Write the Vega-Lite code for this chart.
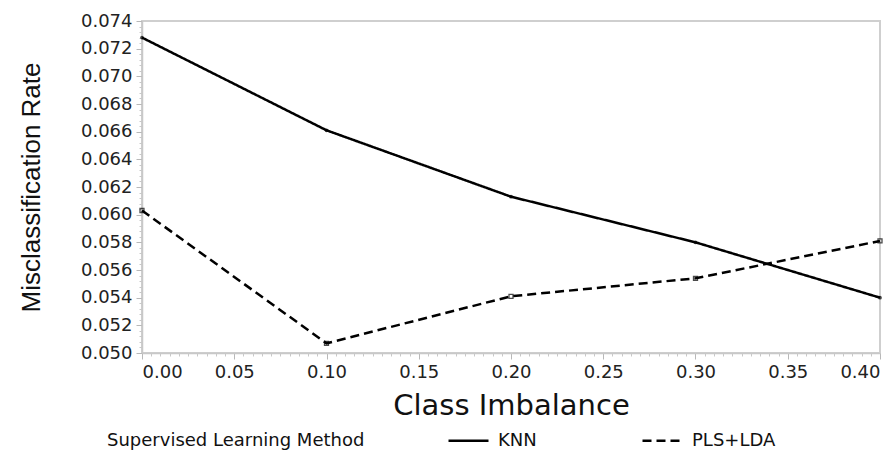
{
  "$schema": "https://vega.github.io/schema/vega-lite/v6.json",
  "width": 738,
  "height": 332,
  "autosize": {"type": "none"},
  "padding": {"left": 142, "top": 21, "right": 15, "bottom": 98},
  "background": "white",
  "config": {
    "view": {"stroke": "#cfcfcf", "strokeWidth": 2},
    "font": "DejaVu Sans"
  },
  "data": {
    "values": [
      {"imb": 0.0, "rate": 0.0728, "Method": "KNN"},
      {"imb": 0.1, "rate": 0.0661, "Method": "KNN"},
      {"imb": 0.2, "rate": 0.0613, "Method": "KNN"},
      {"imb": 0.3, "rate": 0.0580, "Method": "KNN"},
      {"imb": 0.4, "rate": 0.0540, "Method": "KNN"},
      {"imb": 0.0, "rate": 0.0603, "Method": "PLS+LDA"},
      {"imb": 0.1, "rate": 0.0507, "Method": "PLS+LDA"},
      {"imb": 0.2, "rate": 0.0541, "Method": "PLS+LDA"},
      {"imb": 0.3, "rate": 0.0554, "Method": "PLS+LDA"},
      {"imb": 0.4, "rate": 0.0581, "Method": "PLS+LDA"}
    ]
  },
  "resolve": {"axis": {"x": "independent", "y": "independent"}},
  "layer": [
    {
      "mark": {"type": "line", "color": "black", "strokeWidth": 2.5},
      "encoding": {
        "x": {
          "field": "imb", "type": "quantitative",
          "scale": {"domain": [0, 0.4], "nice": false, "zero": false},
          "axis": {
            "orient": "bottom",
            "title": "Class Imbalance",
            "values": [0, 0.05, 0.1, 0.15, 0.2, 0.25, 0.3, 0.35, 0.4],
            "format": ".2f",
            "grid": false,
            "domainColor": "#c8c8c8", "domainWidth": 1.5,
            "tickColor": "#b8b8b8", "tickSize": 6,
            "labelFont": "DejaVu Sans", "labelFontSize": 18, "labelColor": "#222",
            "labelPadding": 4,
            "titleFont": "DejaVu Sans", "titleFontSize": 29, "titleFontWeight": "normal",
            "titleColor": "#111", "titlePadding": 10
          }
        },
        "y": {
          "field": "rate", "type": "quantitative",
          "scale": {"domain": [0.05, 0.074], "nice": false, "zero": false},
          "axis": {
            "orient": "left",
            "title": "Misclassification Rate",
            "values": [0.05, 0.052, 0.054, 0.056, 0.058, 0.06, 0.062, 0.064, 0.066, 0.068, 0.07, 0.072, 0.074],
            "format": ".3f",
            "grid": false,
            "domainColor": "#c8c8c8", "domainWidth": 1.5,
            "tickColor": "#b8b8b8", "tickSize": 6,
            "labelFont": "DejaVu Sans", "labelFontSize": 18, "labelColor": "#222",
            "labelPadding": 4,
            "titleFont": "Liberation Sans", "titleFontSize": 26, "titleFontWeight": "normal",
            "titleColor": "#111", "titlePadding": 36
          }
        },
        "strokeDash": {
          "field": "Method", "type": "nominal",
          "scale": {"domain": ["KNN", "PLS+LDA"], "range": [[1, 0], [9, 5]]},
          "legend": {
            "title": "Supervised Learning Method",
            "orient": "none",
            "direction": "horizontal",
            "legendX": -35,
            "legendY": 398,
            "titleOrient": "left",
            "titleAnchor": "end",
            "titleLimit": 500,
            "titleFont": "DejaVu Sans", "titleFontSize": 18, "titleFontWeight": "normal",
            "titleColor": "#111", "titlePadding": 82,
            "labelFont": "DejaVu Sans", "labelFontSize": 18, "labelColor": "#111",
            "symbolType": "stroke", "symbolSize": 1600, "symbolStrokeWidth": 2.5,
            "symbolStrokeColor": "black",
            "columnPadding": 100, "labelOffset": 8
          }
        }
      }
    },
    {
      "transform": [{"filter": "datum.Method === 'KNN'"}],
      "mark": {"type": "point", "shape": "circle", "filled": true, "color": "black", "size": 14},
      "encoding": {
        "x": {
          "field": "imb", "type": "quantitative",
          "axis": {
            "orient": "bottom",
            "title": null, "labels": false, "domain": false, "grid": false,
            "values": [0.005,0.01,0.015,0.02,0.025,0.03,0.035,0.04,0.045,0.055,0.06,0.065,0.07,0.075,0.08,0.085,0.09,0.095,0.105,0.11,0.115,0.12,0.125,0.13,0.135,0.14,0.145,0.155,0.16,0.165,0.17,0.175,0.18,0.185,0.19,0.195,0.205,0.21,0.215,0.22,0.225,0.23,0.235,0.24,0.245,0.255,0.26,0.265,0.27,0.275,0.28,0.285,0.29,0.295,0.305,0.31,0.315,0.32,0.325,0.33,0.335,0.34,0.345,0.355,0.36,0.365,0.37,0.375,0.38,0.385,0.39,0.395],
            "tickColor": "#c8c8c8", "tickSize": 3
          }
        },
        "y": {
          "field": "rate", "type": "quantitative",
          "axis": {
            "orient": "left",
            "title": null, "labels": false, "domain": false, "grid": false,
            "values": [0.0504,0.0508,0.0512,0.0516,0.0524,0.0528,0.0532,0.0536,0.0544,0.0548,0.0552,0.0556,0.0564,0.0568,0.0572,0.0576,0.0584,0.0588,0.0592,0.0596,0.0604,0.0608,0.0612,0.0616,0.0624,0.0628,0.0632,0.0636,0.0644,0.0648,0.0652,0.0656,0.0664,0.0668,0.0672,0.0676,0.0684,0.0688,0.0692,0.0696,0.0704,0.0708,0.0712,0.0716,0.0724,0.0728,0.0732,0.0736],
            "tickColor": "#c8c8c8", "tickSize": 3
          }
        }
      }
    },
    {
      "transform": [{"filter": "datum.Method === 'PLS+LDA'"}],
      "mark": {"type": "point", "shape": "square", "filled": false, "color": "black", "size": 16, "strokeWidth": 1.3},
      "encoding": {
        "x": {"field": "imb", "type": "quantitative", "axis": null},
        "y": {"field": "rate", "type": "quantitative", "axis": null}
      }
    }
  ]
}
